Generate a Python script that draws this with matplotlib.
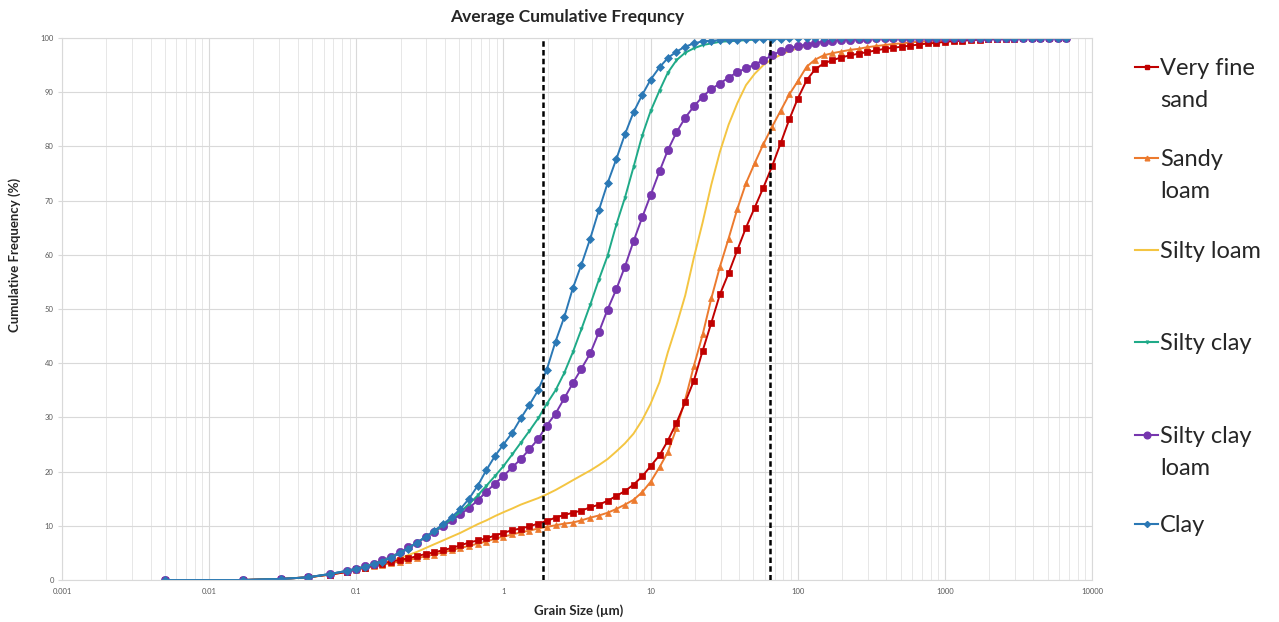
import matplotlib
matplotlib.use("Agg")
import matplotlib.pyplot as plt
from matplotlib.lines import Line2D

plt.rcParams['font.family'] = ['Lato', 'DejaVu Sans']

# grain size classes (um), shared by all samples
sizes = [0.005, 0.017, 0.031, 0.047, 0.066, 0.087,
         0.100, 0.115, 0.131, 0.150, 0.172, 0.197, 0.226, 0.259, 0.296, 0.339,
         0.389, 0.445, 0.510, 0.584, 0.669, 0.766, 0.877,
         1.00, 1.15, 1.31, 1.50, 1.72, 1.97, 2.26, 2.59, 2.96, 3.39, 3.89, 4.45,
         5.10, 5.84, 6.69, 7.66, 8.77,
         10.0, 11.5, 13.1, 15.0, 17.2, 19.7, 22.6, 25.9, 29.6, 33.9, 38.9, 44.5,
         51.0, 58.4, 66.9, 76.6, 87.7,
         100, 115, 131, 150, 172, 197, 226, 259, 296, 339, 389, 445, 510, 584,
         669, 766, 877,
         1000, 1150, 1310, 1500, 1720, 1970, 2260, 2590, 2960, 3390, 3890, 4450,
         5100, 5840, 6690]

very_fine_sand = [0, 0, 0.2, 0.5, 1.0, 1.5,
                  2.0, 2.3, 2.7, 3.0, 3.4, 3.7, 4.0, 4.4, 4.8, 5.1, 5.5, 5.9, 6.4, 6.9, 7.3, 7.7, 8.2,
                  8.7, 9.2, 9.5, 9.9, 10.4, 10.9, 11.5, 12.0, 12.4, 12.8, 13.4, 13.9, 14.6, 15.5, 16.4, 17.6, 19.1,
                  21.0, 23.0, 25.7, 29.0, 32.8, 36.8, 42.3, 47.5, 52.7, 56.6, 60.9, 65.0, 68.7, 72.4, 76.3, 80.6, 85.0,
                  88.8, 92.2, 94.2, 95.3, 95.9, 96.4, 96.8, 97.1, 97.4, 97.7, 98.0, 98.2, 98.4, 98.6, 98.8, 99.0, 99.1,
                  99.3, 99.4, 99.5, 99.6, 99.7, 99.8, 99.8, 99.9, 99.9, 100, 100, 100, 100, 100, 100]

sandy_loam = [0, 0, 0.2, 0.5, 1.0, 1.5,
              1.9, 2.2, 2.5, 2.8, 3.1, 3.4, 3.7, 4.0, 4.4, 4.7, 5.1, 5.5, 5.9, 6.3, 6.7, 7.1, 7.6,
              8.0, 8.4, 8.8, 9.1, 9.5, 9.8, 10.1, 10.4, 10.6, 11.0, 11.5, 11.9, 12.4, 13.1, 13.9, 14.8, 16.2,
              18.1, 20.8, 23.6, 28.0, 33.3, 39.5, 45.3, 52.0, 57.8, 63.0, 68.5, 73.2, 76.9, 80.4, 83.6, 86.6, 89.6,
              92.0, 94.7, 96.0, 96.8, 97.2, 97.5, 97.8, 98.0, 98.3, 98.5, 98.7, 98.9, 99.0, 99.2, 99.3, 99.4, 99.5,
              99.6, 99.7, 99.7, 99.8, 99.8, 99.9, 99.9, 100, 100, 100, 100, 100, 100, 100, 100]

silty_loam = [0, 0, 0.2, 0.5, 1.0, 1.6,
              2.1, 2.4, 2.8, 3.2, 3.6, 4.0, 4.6, 5.2, 5.9, 6.6, 7.3, 8.0, 8.7, 9.5, 10.3, 11.0, 11.8,
              12.5, 13.2, 13.9, 14.5, 15.1, 15.8, 16.6, 17.5, 18.4, 19.3, 20.2, 21.2, 22.3, 23.7, 25.2, 27.0, 29.5,
              32.5, 36.5, 42.0, 47.0, 52.5, 59.5, 66.0, 73.0, 79.0, 84.0, 88.0, 91.3, 93.4, 95.0, 96.1, 96.9, 97.6,
              98.1, 98.6, 99.0, 99.3, 99.5, 99.7, 99.8, 99.9, 100, 100, 100, 100, 100, 100, 100, 100, 100,
              100, 100, 100, 100, 100, 100, 100, 100, 100, 100, 100, 100, 100, 100, 100]

silty_clay = [0, 0, 0.2, 0.5, 1.1, 1.7,
              2.1, 2.5, 3.0, 3.5, 4.2, 5.0, 5.9, 6.9, 7.9, 9.0, 10.1, 11.3, 12.6, 14.0, 15.6, 17.4, 19.2,
              21.0, 23.2, 25.3, 27.5, 29.8, 32.5, 35.0, 38.2, 42.0, 46.3, 50.8, 55.4, 59.8, 65.5, 70.5, 76.2, 82.0,
              86.5, 90.3, 93.6, 95.9, 97.3, 98.1, 98.7, 99.0, 99.3, 99.4, 99.5, 99.6, 99.7, 99.8, 99.8, 99.9, 99.9,
              100, 100, 100, 100, 100, 100, 100, 100, 100, 100, 100, 100, 100, 100, 100, 100, 100,
              100, 100, 100, 100, 100, 100, 100, 100, 100, 100, 100, 100, 100, 100, 100]

silty_clay_loam = [0, 0, 0.2, 0.5, 1.1, 1.7,
                   2.1, 2.5, 3.0, 3.6, 4.3, 5.1, 6.0, 6.9, 7.9, 8.9, 9.9, 11.0, 12.1, 13.3, 14.7, 16.3, 17.8,
                   19.2, 20.8, 22.3, 24.1, 26.0, 28.5, 30.7, 33.5, 36.3, 39.0, 41.8, 45.7, 49.9, 53.6, 57.8, 62.5, 66.9,
                   71.0, 75.4, 79.3, 82.6, 85.3, 87.4, 89.2, 90.6, 91.6, 92.7, 93.7, 94.4, 95.1, 95.9, 96.8, 97.6, 98.1,
                   98.5, 98.8, 99.1, 99.3, 99.5, 99.6, 99.7, 99.8, 99.9, 100, 100, 100, 100, 100, 100, 100, 100,
                   100, 100, 100, 100, 100, 100, 100, 100, 100, 100, 100, 100, 100, 100, 100]

clay = [0, 0, 0.2, 0.5, 1.1, 1.7,
        2.1, 2.4, 2.9, 3.4, 4.1, 4.9, 5.8, 6.9, 8.0, 9.1, 10.3, 11.6, 13.1, 15.0, 17.4, 20.3, 22.9,
        25.0, 27.2, 29.8, 32.3, 35.0, 38.8, 44.0, 48.5, 53.8, 58.2, 63.0, 68.2, 73.2, 77.6, 82.2, 86.3, 89.5,
        92.3, 94.6, 96.3, 97.5, 98.4, 99.0, 99.4, 99.5, 99.6, 99.7, 99.7, 99.8, 99.8, 99.9, 99.9, 99.9, 100,
        100, 100, 100, 100, 100, 100, 100, 100, 100, 100, 100, 100, 100, 100, 100, 100, 100,
        100, 100, 100, 100, 100, 100, 100, 100, 100, 100, 100, 100, 100, 100, 100]

x_ticks = [0.001, 0.01, 0.1, 1, 10, 100, 1000, 10000]
x_tick_labels = ['0.001', '0.01', '0.1', '1', '10', '100', '1000', '10000']
y_ticks = [0, 10, 20, 30, 40, 50, 60, 70, 80, 90, 100]
class_limits = [1.85, 65]  # dashed markers as drawn (clay/silt, silt/sand)

W, H = 1279, 622

# (name, values, colour, marker, marker size, legend first-line y in px)
series = [
    ("Silty loam", silty_loam, '#F4C542', None, 0, 250),
    ("Sandy\nloam", sandy_loam, '#EC7A2E', '^', 4.2, 158),
    ("Very fine\nsand", very_fine_sand, '#C00000', 's', 4.4, 67),
    ("Silty clay\nloam", silty_clay_loam, '#7636AE', 'o', 6.0, 435),
    ("Silty clay", silty_clay, '#1FAA88', 'v', 2.5, 342),
    ("Clay", clay, '#2B78B5', 'D', 3.8, 524),
]


def plot_cumulative():
    fig = plt.figure(figsize=(W / 100, H / 100), dpi=100)
    ax = fig.add_axes([62 / W, 42 / H, (1092 - 62) / W, (580 - 38) / H])

    for name, values, colour, marker, ms, _ in series:
        ax.plot(sizes, values, color=colour, lw=1.4, marker=marker, ms=ms,
                markeredgewidth=0.5)

    for lim in class_limits:
        ax.axvline(lim, color='black', lw=1.8, ls=(0, (2.2, 1.3)), zorder=5)

    ax.set_xscale('log')
    ax.set_xlim(0.001, 10000)
    ax.set_ylim(0, 100)
    ax.set_xticks(x_ticks)
    ax.set_xticklabels(x_tick_labels)
    ax.set_yticks(y_ticks)
    ax.tick_params(axis='both', which='both', labelsize=5.5, colors='#595959',
                   length=0, pad=6)
    ax.tick_params(axis='y', length=3, color='#D9D9D9', pad=3)

    # Excel-like light grid
    ax.grid(which='major', color='#D9D9D9', lw=0.8)
    ax.grid(which='minor', axis='x', color='#E3E3E3', lw=0.6)
    ax.set_axisbelow(True)
    for side in ax.spines:
        ax.spines[side].set_color('#D9D9D9')
        ax.spines[side].set_linewidth(0.8)

    fig.text(567 / W, 1 - 17 / H, "Average Cumulative Frequncy", ha='center',
             va='center', fontsize=12.5, fontweight='bold', color='#262626')
    fig.text(579 / W, 1 - 611 / H, "Grain Size (\u00b5m)", ha='center',
             va='center', fontsize=9.5, fontweight='bold', color='#262626')
    fig.text(15 / W, 1 - 255 / H, "Cumulative Frequency (%)", ha='center',
             va='center', rotation=90, fontsize=9.5, fontweight='bold',
             color='#262626')

    # legend drawn by hand so the marker sits on the first text line
    for name, values, colour, marker, ms, ypx in series:
        yy = 1 - ypx / H
        fig.add_artist(Line2D([1135 / W, 1158 / W], [yy, yy], color=colour,
                              lw=1.5, transform=fig.transFigure))
        if marker:
            fig.add_artist(Line2D([1147 / W], [yy], color=colour, marker=marker,
                                  ms=ms * 0.8, transform=fig.transFigure))
        fig.text(1160 / W, yy + 9 / H, name, ha='left', va='top', fontsize=17,
                 linespacing=1.62, color='#262626')

    fig.savefig('out.png', dpi=100)


if __name__ == "__main__":
    plot_cumulative()
